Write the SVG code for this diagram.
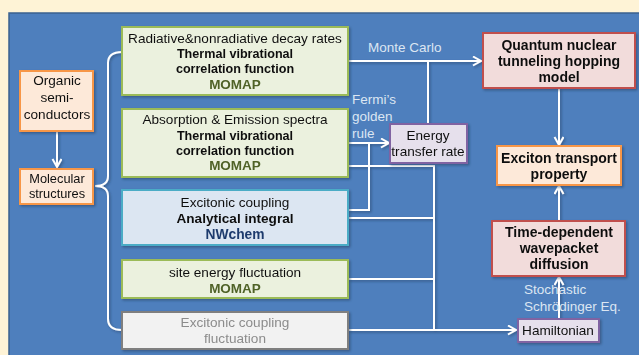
<svg xmlns="http://www.w3.org/2000/svg" width="639" height="355" viewBox="0 0 639 355">
<defs>
<marker id="arr" markerUnits="userSpaceOnUse" markerWidth="12" markerHeight="12" refX="9" refY="5" orient="auto">
<path d="M1,0.5 L9,5 L1,9.5" fill="none" stroke="#ffffff" stroke-width="2"/>
</marker>
<filter id="sh" x="-10%" y="-10%" width="130%" height="130%">
<feDropShadow dx="1.5" dy="1.5" stdDeviation="1" flood-color="#1f3556" flood-opacity="0.5"/>
</filter>
</defs>
<style>
text{font-family:"Liberation Sans",Arial,sans-serif;text-anchor:middle;font-size:13.6px;fill:#111}
.b{font-weight:bold}
.bq{font-weight:bold;font-size:14px}
.sm{font-size:12.8px}
.th{font-weight:bold;font-size:12.6px}
.mo{font-weight:bold;fill:#4f6228;font-size:13.5px}
.nw{font-weight:bold;fill:#1f3b6d;font-size:13.8px}
.lab{fill:#dce6f2;text-anchor:start;font-size:13.5px}
.gr{fill:#8c8c8c}
.g{fill:#ebf1de;stroke:#9bbb59;stroke-width:2}
.c{fill:#dce6f2;stroke:#4bacc6;stroke-width:2}
.gy{fill:#f2f2f2;stroke:#7f7f7f;stroke-width:2}
.o{fill:#fde9d9;stroke:#f79646;stroke-width:2}
.r{fill:#f2dcdb;stroke:#c0504d;stroke-width:2}
.p{fill:#e6e0ec;stroke:#8064a2;stroke-width:2}
.ln{fill:none;stroke:#ffffff;stroke-width:2}
</style>
<rect x="0" y="0" width="639" height="355" fill="#fef3d6"/>
<rect x="9" y="13" width="640" height="350" fill="#4e7fbd" stroke="#3b618f" stroke-width="1.5"/>

<g id="connectors" filter="url(#sh)">
<path class="ln" d="M122,52 Q108,52 108,63 L108,176 Q108,186 95,186 Q108,186 108,196 L108,319 Q108,330 122,330"/>
<path class="ln" d="M57,131 V167" marker-end="url(#arr)"/>
<path class="ln" d="M348,61 H481" marker-end="url(#arr)"/>
<path class="ln" d="M428,124 V61"/>
<path class="ln" d="M348,143 H389" marker-end="url(#arr)"/>
<path class="ln" d="M348,210 H369 V143"/>
<path class="ln" d="M348,166 H434 V330"/>
<path class="ln" d="M348,218 H434"/>
<path class="ln" d="M348,279 H434"/>
<path class="ln" d="M348,330 H516" marker-end="url(#arr)"/>
<path class="ln" d="M559,88 V145" marker-end="url(#arr)"/>
<path class="ln" d="M559,319 V277" marker-end="url(#arr)"/>
<path class="ln" d="M559,221 V186" marker-end="url(#arr)"/>
</g>

<g id="labels">
<text class="lab" x="368" y="52">Monte Carlo</text>
<text class="lab" x="352" y="104">Fermi’s</text>
<text class="lab" x="352" y="121">golden</text>
<text class="lab" x="352" y="138">rule</text>
<text class="lab" x="524" y="294">Stochastic</text>
<text class="lab" x="524" y="311">Schrödinger Eq.</text>
</g>

<g id="organic" filter="url(#sh)">
<rect class="o" x="20" y="71" width="73" height="60"/>
<text x="57" y="85">Organic</text>
<text x="57" y="102">semi-</text>
<text x="57" y="119">conductors</text>
</g>
<g id="molecular" filter="url(#sh)">
<rect class="o" x="20" y="169" width="73" height="35"/>
<text class="sm" x="57" y="183">Molecular</text>
<text class="sm" x="57" y="198">structures</text>
</g>

<g id="decay" filter="url(#sh)">
<rect class="g" x="122" y="27" width="226" height="68"/>
<text x="235" y="43">Radiative&amp;nonradiative decay rates</text>
<text class="th" x="235" y="58">Thermal vibrational</text>
<text class="th" x="235" y="73">correlation function</text>
<text class="mo" x="235" y="89">MOMAP</text>
</g>
<g id="spectra" filter="url(#sh)">
<rect class="g" x="122" y="109" width="226" height="68"/>
<text x="235" y="124">Absorption &amp; Emission spectra</text>
<text class="th" x="235" y="140">Thermal vibrational</text>
<text class="th" x="235" y="155">correlation function</text>
<text class="mo" x="235" y="170">MOMAP</text>
</g>
<g id="coupling" filter="url(#sh)">
<rect class="c" x="122" y="190" width="226" height="55"/>
<text x="235" y="207">Excitonic coupling</text>
<text class="b" x="235" y="223">Analytical integral</text>
<text class="nw" x="235" y="239">NWchem</text>
</g>
<g id="site" filter="url(#sh)">
<rect class="g" x="122" y="260" width="226" height="38"/>
<text x="235" y="277">site energy fluctuation</text>
<text class="mo" x="235" y="293">MOMAP</text>
</g>
<g id="fluct" filter="url(#sh)">
<rect class="gy" x="122" y="312" width="226" height="37"/>
<text class="gr" x="235" y="327">Excitonic coupling</text>
<text class="gr" x="235" y="343">fluctuation</text>
</g>

<g id="energy" filter="url(#sh)">
<rect class="p" x="390" y="124" width="77" height="39"/>
<text x="428" y="140">Energy</text>
<text x="428" y="156">transfer rate</text>
</g>
<g id="quantum" filter="url(#sh)">
<rect class="r" x="483" y="33" width="152" height="55"/>
<text class="bq" x="559" y="50">Quantum nuclear</text>
<text class="bq" x="559" y="66">tunneling hopping</text>
<text class="bq" x="559" y="82">model</text>
</g>
<g id="exciton" filter="url(#sh)">
<rect class="o" x="497" y="146" width="124" height="39"/>
<text class="bq" x="559" y="163">Exciton transport</text>
<text class="bq" x="559" y="179">property</text>
</g>
<g id="wavepacket" filter="url(#sh)">
<rect class="r" x="492" y="221" width="133" height="55"/>
<text class="bq" x="559" y="237">Time-dependent</text>
<text class="bq" x="559" y="253">wavepacket</text>
<text class="bq" x="559" y="269">diffusion</text>
</g>
<g id="hamiltonian" filter="url(#sh)">
<rect class="p" x="518" y="319" width="81" height="23"/>
<text x="558" y="335">Hamiltonian</text>
</g>
</svg>
